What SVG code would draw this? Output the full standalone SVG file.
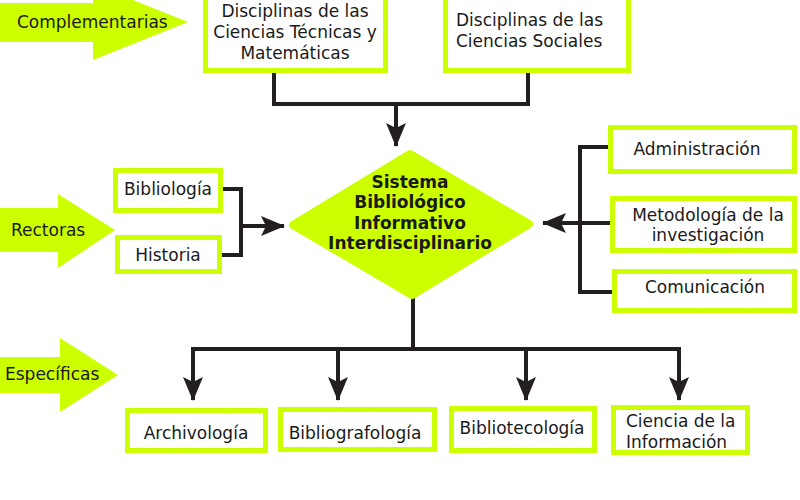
<svg xmlns="http://www.w3.org/2000/svg" width="800" height="500" viewBox="0 0 800 500">
<style>
.bg{fill:#ffffff}
.big{fill:#ccff00}
.box{fill:#ffffff;stroke:#ccff00;stroke-width:5}
.dia{fill:#ccff00;stroke:#ccff00;stroke-width:8;stroke-linejoin:round}
.t{font-family:"DejaVu Sans",Verdana,sans-serif;font-size:17px;fill:#1a1a1a}
.c{text-anchor:middle}
.b{font-weight:bold;font-size:17px}
.ln{fill:none;stroke:#231f20;stroke-width:4}
</style>
<defs>
<marker id="ah" viewBox="0 0 24 20" refX="23" refY="10" markerWidth="24" markerHeight="20" markerUnits="userSpaceOnUse" orient="auto">
<path d="M0,0 L24,10 L0,20 L5,10 z" fill="#231f20"/>
</marker>
</defs>
<rect class="bg" x="0" y="0" width="800" height="500"/>

<g id="arrow-complementarias">
<polygon class="big" points="0,3 93,3 93,-16 188,22 93,60 93,42 0,42"/>
<text class="t" x="17" y="28">Complementarias</text>
</g>
<g id="arrow-rectoras">
<polygon class="big" points="0,208 58,208 58,194 115,230 58,268 58,252 0,252"/>
<text class="t" x="11" y="236">Rectoras</text>
</g>
<g id="arrow-especificas">
<polygon class="big" points="0,357 60,357 60,338 118,375 60,412 60,393 0,393"/>
<text class="t" x="5" y="380">Específicas</text>
</g>

<g id="connectors">
<path class="ln" d="M274,73 V104 H528 V73"/>
<path class="ln" d="M396,104 V146" marker-end="url(#ah)"/>
<path class="ln" d="M222,189 H241 V255 H221"/>
<path class="ln" d="M241,226 H284" marker-end="url(#ah)"/>
<path class="ln" d="M609,147 H580 V292 H613"/>
<path class="ln" d="M611,223 H580"/>
<path class="ln" d="M580,223 H543" marker-end="url(#ah)"/>
<path class="ln" d="M413,296 V349"/>
<path class="ln" d="M191,349 H681"/>
<path class="ln" d="M193,347 V400" marker-end="url(#ah)"/>
<path class="ln" d="M338,349 V400" marker-end="url(#ah)"/>
<path class="ln" d="M526,349 V400" marker-end="url(#ah)"/>
<path class="ln" d="M679,347 V400" marker-end="url(#ah)"/>
</g>

<g id="node-tecnicas">
<rect class="box" x="205.5" y="-10" width="180" height="80.5"/>
<text class="t c" x="295" y="17">Disciplinas de las</text>
<text class="t c" x="295" y="38">Ciencias Técnicas y</text>
<text class="t c" x="295" y="59">Matemáticas</text>
</g>
<g id="node-sociales">
<rect class="box" x="445.5" y="-10" width="183" height="80.5"/>
<text class="t" x="456" y="26">Disciplinas de las</text>
<text class="t" x="456" y="47">Ciencias Sociales</text>
</g>

<g id="node-sistema">
<polygon class="dia" points="293,225 410,154 529,224 412,295"/>
<text class="t c b" x="410" y="188">Sistema</text>
<text class="t c b" x="410" y="208">Bibliológico</text>
<text class="t c b" x="410" y="229">Informativo</text>
<text class="t c b" x="410" y="249">Interdisciplinario</text>
</g>

<g id="node-bibliologia">
<rect class="box" x="115.5" y="170.5" width="105" height="40"/>
<text class="t c" x="168" y="195">Bibliología</text>
</g>
<g id="node-historia">
<rect class="box" x="117.5" y="237.5" width="102" height="34"/>
<text class="t c" x="168" y="261">Historia</text>
</g>

<g id="node-administracion">
<rect class="box" x="610.5" y="127.5" width="184" height="44"/>
<text class="t c" x="697" y="155">Administración</text>
</g>
<g id="node-metodologia">
<rect class="box" x="612.5" y="198.5" width="182" height="52"/>
<text class="t c" x="708" y="221">Metodología de la</text>
<text class="t c" x="708" y="241">investigación</text>
</g>
<g id="node-comunicacion">
<rect class="box" x="614.5" y="271.5" width="180" height="39"/>
<text class="t c" x="705" y="293">Comunicación</text>
</g>

<g id="node-archivologia">
<rect class="box" x="127.5" y="410.5" width="138" height="40"/>
<text class="t c" x="196" y="439">Archivología</text>
</g>
<g id="node-bibliografologia">
<rect class="box" x="280.5" y="409.5" width="154" height="40"/>
<text class="t c" x="355" y="439">Bibliografología</text>
</g>
<g id="node-bibliotecologia">
<rect class="box" x="451.5" y="408.5" width="143" height="42"/>
<text class="t c" x="522" y="434">Bibliotecología</text>
</g>
<g id="node-ciencia-informacion">
<rect class="box" x="613.5" y="407.5" width="134" height="45"/>
<text class="t" x="626" y="427">Ciencia de la</text>
<text class="t" x="626" y="448">Información</text>
</g>
</svg>
